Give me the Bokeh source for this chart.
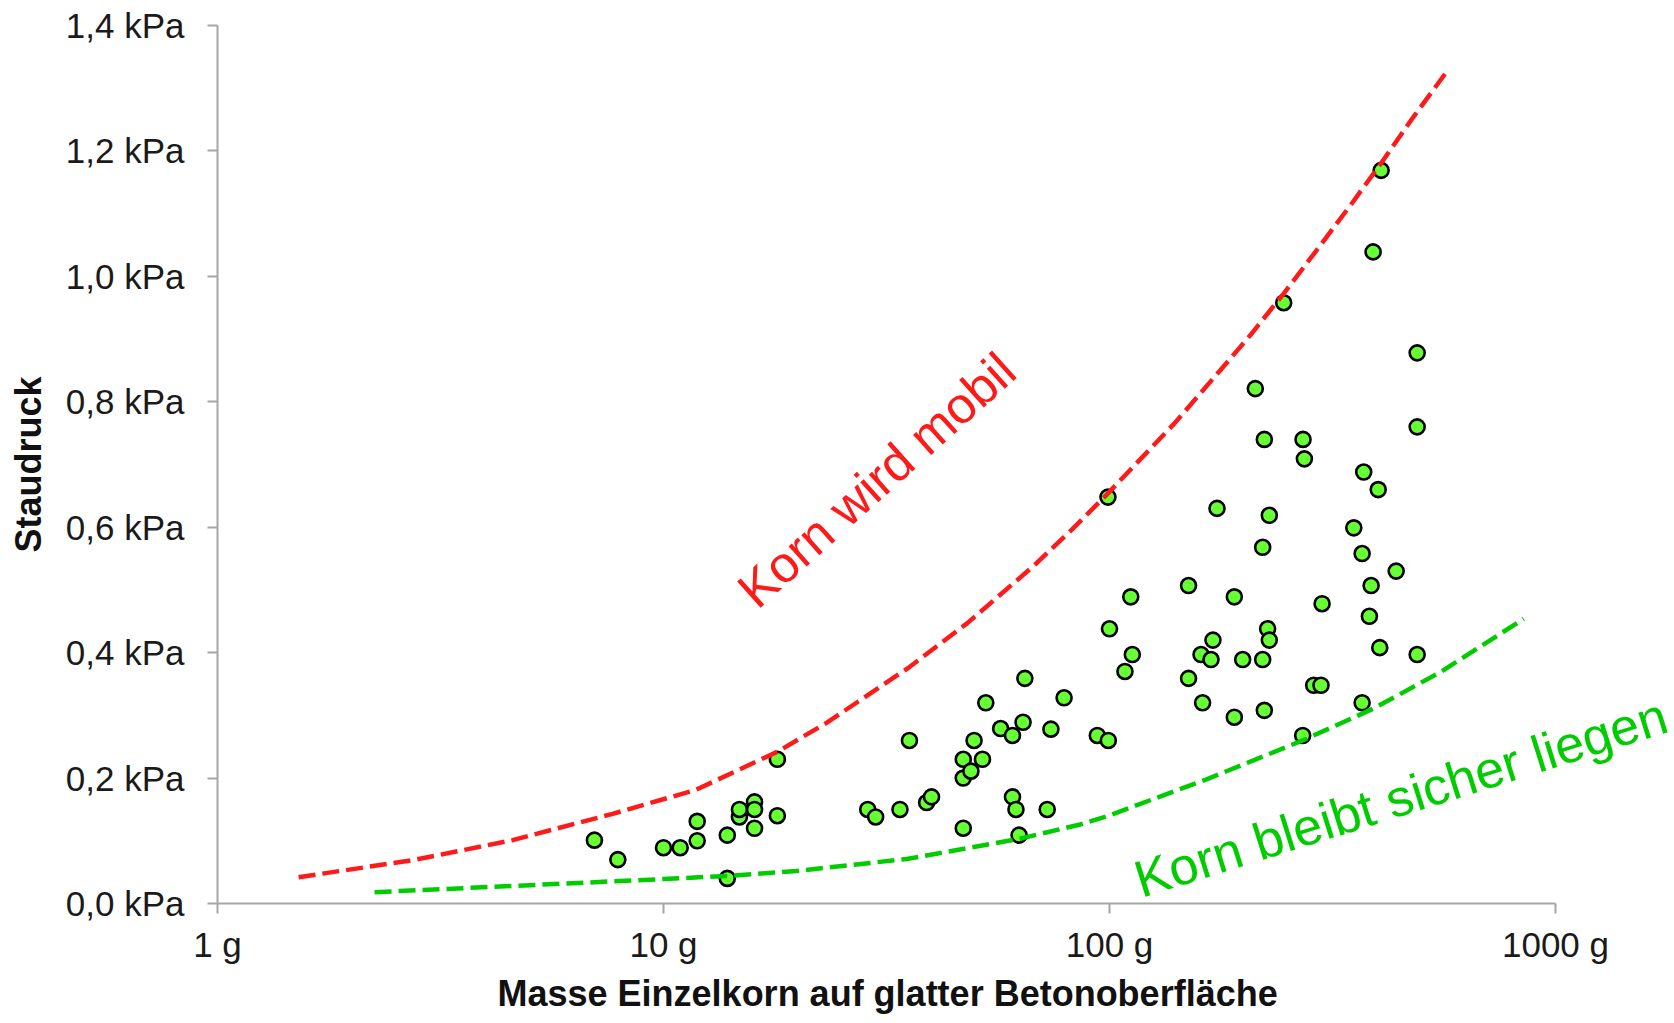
from bokeh.plotting import figure
from bokeh.models import Range1d, FixedTicker, CustomJSTickFormatter, Label, Title
from bokeh.embed import file_html
from bokeh.resources import INLINE

# ---- data ----
mass_g = [7.0, 7.9, 10.0, 10.9, 11.9, 11.9, 13.9, 13.9, 14.8, 14.8,
          16.0, 16.0, 16.0, 18.0, 18.0, 28.7, 29.9, 33.9, 35.6, 38.9,
          39.9, 47.0, 47.0, 47.0, 48.9, 49.7, 51.9, 52.8, 57.0, 60.6,
          60.6, 61.7, 62.7, 64.0, 64.6, 72.5, 73.9, 79.1, 93.9, 99.4,
          108.3, 112.5, 100.0, 111.6, 150.4, 150.4, 161.7, 160.4, 168.9, 170.6,
          190.5, 190.5, 198.9, 220.5, 222.4, 226.2, 228.2, 271.1, 287.0, 298.0,
          299.7, 368.5, 382.6, 386.0, 403.6, 439.3, 489.6, 406.5, 390.0, 245.8,
          489.6, 212.3, 489.6, 222.4, 271.6, 273.5, 371.5, 400.4, 99.2, 174.2,
          228.2, 353.0, 220.5, 368.5]
staudruck_kpa = [0.101, 0.070, 0.089, 0.089, 0.100, 0.131, 0.040, 0.109, 0.138, 0.150,
                 0.162, 0.150, 0.120, 0.140, 0.230, 0.150, 0.138, 0.150, 0.260, 0.161,
                 0.170, 0.120, 0.200, 0.230, 0.211, 0.260, 0.230, 0.320, 0.279, 0.268,
                 0.170, 0.150, 0.109, 0.289, 0.359, 0.150, 0.278, 0.328, 0.268, 0.260,
                 0.370, 0.397, 0.438, 0.489, 0.507, 0.359, 0.320, 0.397, 0.389, 0.420,
                 0.489, 0.297, 0.389, 0.389, 0.308, 0.438, 0.420, 0.268, 0.348, 0.348,
                 0.478, 0.320, 0.458, 0.507, 0.408, 0.530, 0.397, 1.169, 1.039, 0.958,
                 0.878, 0.821, 0.760, 0.740, 0.740, 0.709, 0.688, 0.660, 0.648, 0.630,
                 0.619, 0.599, 0.568, 0.558]

# dashed boundary "Korn wird mobil"
mobil_mass_g = [1.52, 2.74, 4.59, 7.69, 11.8, 18.0, 23.2, 35.6, 48.0, 67.5,
                82.0, 98.6, 140.0, 177.0, 206.8, 246.0, 291.6, 350.0, 406.0, 480.0,
                571.0]
mobil_kpa = [0.042, 0.069, 0.101, 0.143, 0.181, 0.242, 0.288, 0.377, 0.447, 0.538,
             0.595, 0.652, 0.766, 0.850, 0.906, 0.973, 1.042, 1.117, 1.180, 1.254,
             1.327]

# dashed boundary "Korn bleibt sicher liegen"
sicher_mass_g = [2.25, 4.59, 10.0, 13.9, 19.9, 35.1, 62.7, 85.9, 98.6, 165.0,
                 271.0, 391.0, 552.0, 849.0]
sicher_kpa = [0.018, 0.028, 0.039, 0.044, 0.052, 0.071, 0.103, 0.126, 0.139, 0.198,
              0.260, 0.311, 0.369, 0.454]

x_ticks = [1, 10, 100, 1000]
y_ticks = [0.0, 0.2, 0.4, 0.6, 0.8, 1.0, 1.2, 1.4]

x_title = "Masse Einzelkorn auf glatter Betonoberfläche"
y_title = "Staudruck"
label_mobil = "Korn wird mobil"
label_sicher = "Korn bleibt sicher liegen"

FONT = "Liberation Sans"
AXIS_GRAY = "#a6a6a6"
RED = "#ff1a1a"
GREEN = "#00cc00"

# layout (px): 1 g .. 1000 g spans 217..1555; the frame reaches the right edge
# (axis bounded to 1..1000 g) so that the green label is not clipped
LEFT, AXIS_END, WIDTH, HEIGHT = 217, 1555, 1674, 1023
X_END = 10 ** (3 * (WIDTH - LEFT) / (AXIS_END - LEFT))
TITLE_LEFT = 497  # left edge of the centred x title (centre at 887 px)

p = figure(width=WIDTH, height=HEIGHT, x_axis_type="log",
           x_range=Range1d(1, X_END), y_range=Range1d(0, 1.4),
           output_backend="svg", toolbar_location=None,
           min_border_left=LEFT, min_border_right=0,
           min_border_top=25, min_border_bottom=120)
p.title.visible = False
p.outline_line_color = None
p.grid.visible = False
p.background_fill_color = "white"
p.border_fill_color = "white"

for ax in (p.xaxis[0], p.yaxis[0]):
    ax.axis_line_color = AXIS_GRAY
    ax.axis_line_width = 2
    ax.major_tick_line_color = AXIS_GRAY
    ax.major_tick_line_width = 2
    ax.major_tick_out = 10
    ax.major_tick_in = 0
    ax.minor_tick_line_color = None
    ax.major_label_text_font = FONT
    ax.major_label_text_font_size = "35px"
    ax.major_label_text_color = "#1a1a1a"
    ax.axis_label_text_font = FONT
    ax.axis_label_text_font_style = "bold"
    ax.axis_label_text_font_size = "36px"
    ax.axis_label_text_color = "#111111"

xa = p.xaxis[0]
xa.bounds = (1, 1000)
xa.ticker = FixedTicker(ticks=x_ticks)
xa.formatter = CustomJSTickFormatter(code="return tick.toFixed(0) + ' g';")
xa.major_label_standoff = 11

# x axis title, centred under the 1 g .. 1000 g axis
p.add_layout(Title(text=x_title, align="left", offset=TITLE_LEFT - LEFT,
                   vertical_align="top", standoff=13,
                   text_font=FONT, text_font_size="36px", text_font_style="bold",
                   text_color="#111111"), "below")

ya = p.yaxis[0]
ya.ticker = FixedTicker(ticks=y_ticks)
ya.formatter = CustomJSTickFormatter(code="return tick.toFixed(1).replace('.', ',') + ' kPa';")
ya.major_label_standoff = 23
ya.axis_label = y_title
ya.axis_label_standoff = 14

p.scatter(mass_g, staudruck_kpa, marker="circle", size=15,
          fill_color="#66ff33", line_color="black", line_width=2.6)

p.line(mobil_mass_g, mobil_kpa, line_color=RED, line_width=4.5, line_dash="17 7")
p.line(sicher_mass_g, sicher_kpa, line_color=GREEN, line_width=4.5, line_dash="17 7")

p.add_layout(Label(x=15.3, y=0.488, text=label_mobil, angle=41.9, angle_units="deg",
                   text_font=FONT, text_font_size="51px", text_color=RED,
                   text_align="left", text_baseline="alphabetic"))
p.add_layout(Label(x=114.7, y=0.036, text=label_sicher, angle=17.5, angle_units="deg",
                   text_font=FONT, text_font_size="52px", text_color=GREEN,
                   text_align="left", text_baseline="alphabetic"))

open("out.html", "w").write(file_html(p, INLINE))
